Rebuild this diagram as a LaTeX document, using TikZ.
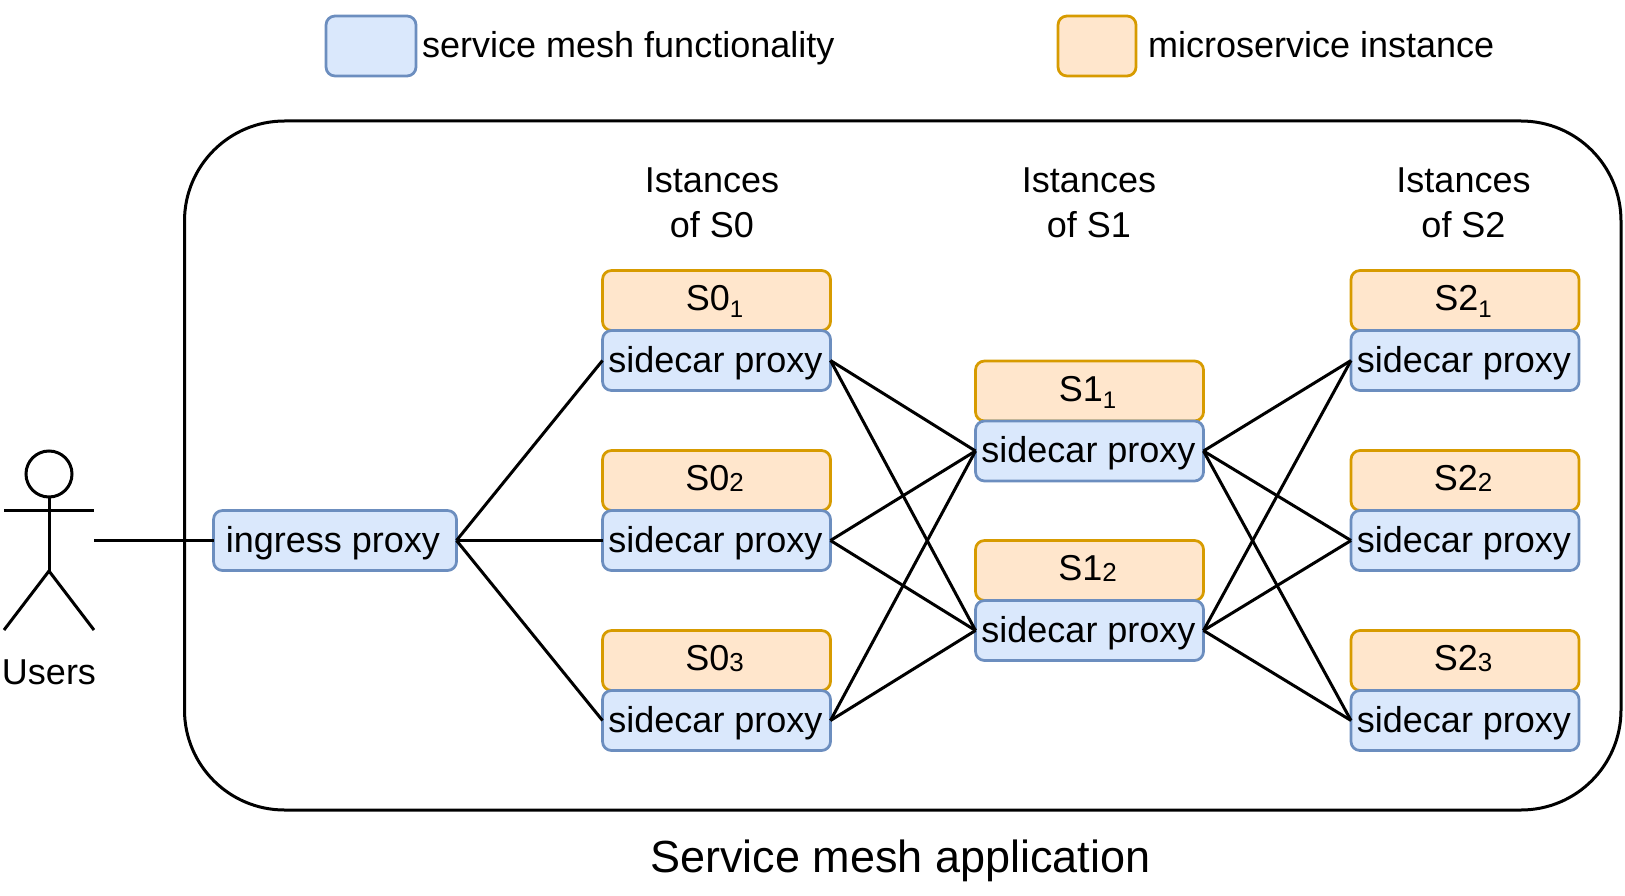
\documentclass[tikz,border=0pt]{standalone}
\usepackage{fontspec}
\setmainfont{Liberation Sans}
\usepackage{tikz}
\definecolor{colMESH}{HTML}{DAE8FC}
\definecolor{colMESHline}{HTML}{6C8EBF}
\definecolor{colSVC}{HTML}{FFE6CC}
\definecolor{colSVCline}{HTML}{D79B00}
\newcommand{\lowsub}[1]{\raisebox{-7pt}{\fontsize{24}{24}\selectfont #1}\kern4pt}
\newcommand{\flatsub}[1]{\raisebox{-1pt}{\fontsize{26}{26}\selectfont #1}\kern4pt}
\newcommand{\sidecar}{sidecar proxy\kern2pt}
\tikzset{
  meshbox/.style={draw=colMESHline,fill=colMESH,line width=2.75pt,rounded corners=9pt,
    inner sep=0pt,outer sep=0pt,text height=31pt,text depth=8pt},
  svcbox/.style={draw=colSVCline,fill=colSVC,line width=2.75pt,rounded corners=9pt,
    inner sep=0pt,outer sep=0pt,text height=29pt,text depth=9pt},
  proxybox/.style={meshbox,minimum width=228pt,minimum height=60pt},
  instbox/.style={svcbox,minimum width=228pt,minimum height=60pt},
  link/.style={line width=3pt}
}
\begin{document}
\begin{tikzpicture}[x=1pt,y=-1pt, every node/.style={font=\fontsize{36}{45}\selectfont}]
      \useasboundingbox (0,0) rectangle (1625,896);
      % Legend
      \node[meshbox,minimum width=90pt,minimum height=60pt] (legmesh) at (371,46) {};
      \node[anchor=base west,inner sep=0pt] (legmeshtxt) at (422,58) {service mesh functionality};
      \node[svcbox,minimum width=78pt,minimum height=60pt] (legsvc) at (1097,46) {};
      \node[anchor=base west,inner sep=0pt] (legsvctxt) at (1148,58) {microservice instance};
      % Application box
      \draw[link,rounded corners=100pt] (184.5,121) rectangle (1621,810);
      \node[font=\fontsize{45}{54}\selectfont] (apptitle) at (900.5,861) {Service mesh application};
      % Users
      \draw[link] (49,474) circle[radius=23];
      \draw[link] (49,497) -- (49,571);
      \draw[link] (4,510.5) -- (94,510.5);
      \draw[link] (4,630) -- (49,571) -- (94,630);
      \coordinate (usr) at (94,540.5);
      \node (users) at (49,672) {Users};
      % Ingress
      \node[meshbox,minimum width=243pt,minimum height=60pt] (ingress) at (335,540.5) {ingress proxy\kern4pt};
      % Column headers
      \node[align=center] (hdr0) at (712,203) {Istances\\of S0};
      \node[align=center] (hdr1) at (1089,203) {Istances\\of S1};
      \node[align=center] (hdr2) at (1463.5,203) {Istances\\of S2};
      % Instances of S0
      \node[instbox] (s01) at (716.5,300.5) {S0\lowsub{1}};
      \node[proxybox] (p01) at (716.5,360.5) {\sidecar};
      \node[instbox] (s02) at (716.5,480.5) {S0\flatsub{2}};
      \node[proxybox] (p02) at (716.5,540.5) {\sidecar};
      \node[instbox] (s03) at (716.5,660.5) {S0\flatsub{3}};
      \node[proxybox] (p03) at (716.5,720.5) {\sidecar};
      % Instances of S1
      \node[instbox] (s11) at (1089.5,391) {S1\lowsub{1}};
      \node[proxybox] (p11) at (1089.5,451) {\sidecar};
      \node[instbox] (s12) at (1089.5,570.5) {S1\flatsub{2}};
      \node[proxybox] (p12) at (1089.5,630.5) {\sidecar};
      % Instances of S2
      \node[instbox] (s21) at (1465,300.5) {S2\lowsub{1}};
      \node[proxybox] (p21) at (1465,360.5) {\sidecar};
      \node[instbox] (s22) at (1465,480.5) {S2\flatsub{2}};
      \node[proxybox] (p22) at (1465,540.5) {\sidecar};
      \node[instbox] (s23) at (1465,660.5) {S2\flatsub{3}};
      \node[proxybox] (p23) at (1465,720.5) {\sidecar};
      % Links
      \draw[link] (usr) -- (ingress.west);
      \draw[link] (ingress.east) -- (p01.west);
      \draw[link] (ingress.east) -- (p02.west);
      \draw[link] (ingress.east) -- (p03.west);
      \draw[link] (p01.east) -- (p11.west);
      \draw[link] (p01.east) -- (p12.west);
      \draw[link] (p02.east) -- (p11.west);
      \draw[link] (p02.east) -- (p12.west);
      \draw[link] (p03.east) -- (p11.west);
      \draw[link] (p03.east) -- (p12.west);
      \draw[link] (p11.east) -- (p21.west);
      \draw[link] (p11.east) -- (p22.west);
      \draw[link] (p11.east) -- (p23.west);
      \draw[link] (p12.east) -- (p21.west);
      \draw[link] (p12.east) -- (p22.west);
      \draw[link] (p12.east) -- (p23.west);
    \end{tikzpicture}
\end{document}
